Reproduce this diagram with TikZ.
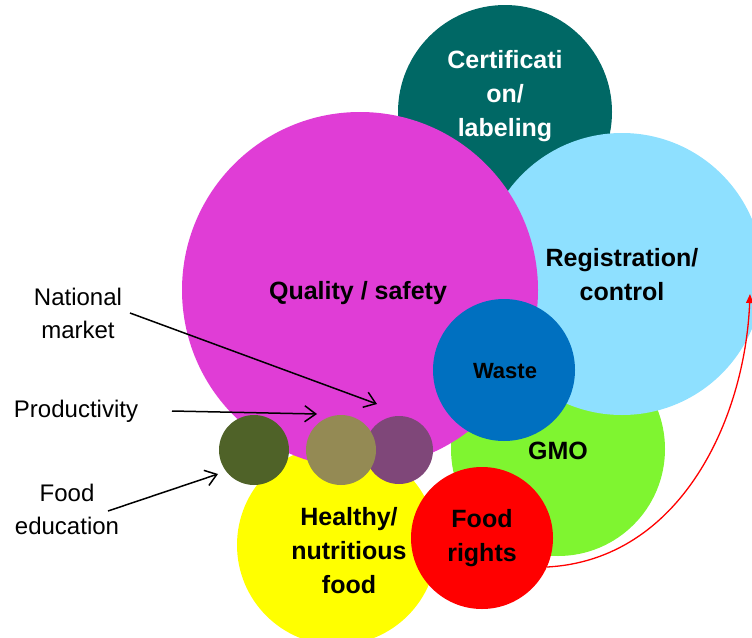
\documentclass[tikz,border=0pt]{standalone}
\usepackage{fontspec}
\setmainfont{Liberation Sans}
\usetikzlibrary{arrows.meta}
\definecolor{cteal}{HTML}{006865}
\definecolor{clblue}{HTML}{8EE0FF}
\definecolor{cmag}{HTML}{E03DD6}
\definecolor{cblue}{HTML}{0070C0}
\definecolor{cgreen}{HTML}{7FF530}
\definecolor{cyel}{HTML}{FFFF00}
\definecolor{cred}{HTML}{FF0000}
\definecolor{cdolive}{HTML}{4F6228}
\definecolor{colive}{HTML}{948A54}
\definecolor{cpurp}{HTML}{7F4779}
\begin{document}
\begin{tikzpicture}[x=1pt,y=-1pt,
  bubble/.style={circle,inner sep=0pt,draw=none,align=center,font=\fontsize{25}{34}\selectfont\bfseries},
  lbl/.style={align=center,font=\fontsize{24}{33}\selectfont},
  arr/.style={->,line width=1.5pt,>={Straight Barb[length=11pt,width=16pt]}}]
\useasboundingbox (0,0) rectangle (752,637);
\clip (0,0) rectangle (752,637);
\node[bubble,fill=cteal,minimum size=214pt,text=white] (cert) at (505,112) {};
\node[bubble,fill=cgreen,minimum size=214pt] (gmo) at (558,449) {};
\node[bubble,fill=cyel,minimum size=200pt] (yel) at (337,545) {};
\node[bubble,fill=clblue,minimum size=282pt] (reg) at (622,274) {};
\node[bubble,fill=cmag,minimum size=356pt] (qual) at (360,290) {};
\node[bubble,fill=cblue,minimum size=142pt] (waste) at (504,370) {};
\node[bubble,fill=cred,minimum size=142pt] (red) at (482,538) {};
\node[bubble,fill=cdolive,minimum size=70pt] (s1) at (254,450) {};
\node[bubble,fill=cpurp,minimum size=68pt] (s3) at (399,450) {};
\node[bubble,fill=colive,minimum size=70pt] (s2) at (341,450) {};
% texts
\node[bubble,text=white] (certt) at (505,96) {Certificati\\on/\\labeling};
\node[bubble] (regt) at (622,275) {Registration/\\control};
\node[bubble] (qualt) at (358,293) {Quality / safety};
\node[bubble,font=\fontsize{22}{30}\selectfont\bfseries] (wastet) at (505,371) {Waste};
\node[bubble] (gmot) at (558,451) {GMO};
\node[bubble] (yelt) at (349,551) {Healthy/\\nutritious\\food};
\node[bubble] (redt) at (482,538.5) {Food\\rights};
% left labels
\node[lbl] (nm) at (78,313) {National\\market};
\node[lbl] (pr) at (76,411) {Productivity};
\node[lbl] (fe) at (67,509) {Food\\education};
\coordinate (nmS) at (130,313);
\coordinate (nmE) at (377,404);
\coordinate (prS) at (172,411);
\coordinate (prE) at (317,414);
\coordinate (feS) at (108,511);
\coordinate (feE) at (218,474);
\draw[arr] (nmS) -- (nmE);
\draw[arr] (prS) -- (prE);
\draw[arr] (feS) -- (feE);
\coordinate (rS) at (547,567);
\coordinate (rE) at (750,294);
\draw[->,cred,line width=1.3pt,>={Triangle[length=9pt,width=7pt]}] (rS) .. controls (680,560) and (745,420) .. (rE);
\end{tikzpicture}
\end{document}
